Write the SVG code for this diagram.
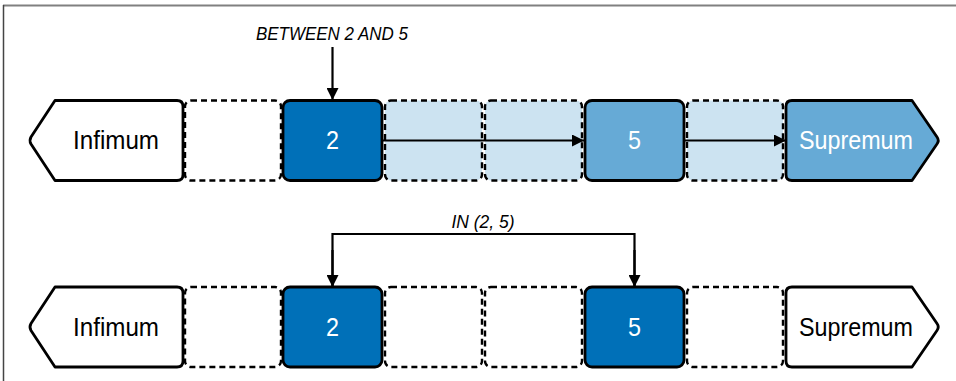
<svg xmlns="http://www.w3.org/2000/svg" width="956" height="381" viewBox="0 0 956 381">
<defs>
<style>
.solid{stroke:#000;stroke-width:2.8;stroke-linejoin:round}
.dash{stroke:#000;stroke-width:2.4;stroke-dasharray:6 4}
.lbl{font-family:"Liberation Sans",Arial,sans-serif;font-size:26px;text-anchor:middle}
.ann{font-family:"Liberation Sans",Arial,sans-serif;font-size:19px;font-style:italic;text-anchor:middle;fill:#000}
.conn{stroke:#000;stroke-width:2.2;fill:none}
.white{fill:#fff}
.dark{fill:#0070b8}
.mid{fill:#66aad6}
.light{fill:#cce3f1}
</style>
<marker id="ah" viewBox="0 0 12 12" refX="12" refY="6" markerWidth="12" markerHeight="12" markerUnits="userSpaceOnUse" orient="auto">
<path d="M0,0 L12,6 L0,12 Z" fill="#000"/>
</marker>
</defs>
<rect width="956" height="381" fill="#fff"/>
<g id="frame">
<line x1="3" y1="5.5" x2="956" y2="5.5" stroke="#808080" stroke-width="2"/>
<line x1="3.5" y1="5" x2="3.5" y2="381" stroke="#444" stroke-width="1.5"/>
</g>

<!-- Row 1 -->
<g id="r1-infimum">
<path class="solid white" d="M55,100.5 H177 Q183,100.5 183,106.5 V174.5 Q183,180.5 177,180.5 H55 L31,144 Q29,140.5 31,137 Z"/>
<text class="lbl" x="116" y="148.5" fill="#000" textLength="86" lengthAdjust="spacingAndGlyphs">Infimum</text>
</g>
<g id="r1-d1"><rect class="dash white" x="185" y="100.5" width="96" height="80" rx="6"/></g>
<g id="r1-d2"><rect class="dash light" x="385" y="100.5" width="97" height="80" rx="6"/></g>
<g id="r1-d3"><rect class="dash light" x="485" y="100.5" width="97" height="80" rx="6"/></g>
<g id="r1-d4"><rect class="dash light" x="687" y="100.5" width="96" height="80" rx="6"/></g>
<g id="r1-n2">
<rect class="solid dark" x="283" y="100.5" width="99" height="80" rx="7"/>
<text class="lbl" x="332.5" y="148.5" fill="#fff" textLength="13" lengthAdjust="spacingAndGlyphs">2</text>
</g>
<g id="r1-n5">
<rect class="solid mid" x="585" y="100.5" width="99" height="80" rx="7"/>
<text class="lbl" x="634.5" y="148.5" fill="#fff" textLength="13" lengthAdjust="spacingAndGlyphs">5</text>
</g>
<g id="r1-supremum">
<path class="solid mid" d="M792,100.5 H912 L937,137 Q939.5,140.5 937,144 L912,180.5 H792 Q786,180.5 786,174.5 V106.5 Q786,100.5 792,100.5 Z"/>
<text class="lbl" x="856" y="148.5" fill="#fff" textLength="114" lengthAdjust="spacingAndGlyphs">Supremum</text>
</g>
<g id="r1-label">
<text class="ann" x="332" y="40" textLength="152" lengthAdjust="spacingAndGlyphs">BETWEEN 2 AND 5</text>
</g>

<!-- Row 2 -->
<g id="r2-infimum">
<path class="solid white" d="M55,287 H177 Q183,287 183,293 V361 Q183,367 177,367 H55 L31,330.5 Q29,327 31,323.5 Z"/>
<text class="lbl" x="116" y="336" fill="#000" textLength="86" lengthAdjust="spacingAndGlyphs">Infimum</text>
</g>
<g id="r2-d1"><rect class="dash white" x="185" y="287" width="96" height="80" rx="6"/></g>
<g id="r2-d2"><rect class="dash white" x="385" y="287" width="97" height="80" rx="6"/></g>
<g id="r2-d3"><rect class="dash white" x="485" y="287" width="97" height="80" rx="6"/></g>
<g id="r2-d4"><rect class="dash white" x="687" y="287" width="96" height="80" rx="6"/></g>
<g id="r2-n2">
<rect class="solid dark" x="283" y="287" width="99" height="80" rx="7"/>
<text class="lbl" x="332.5" y="336" fill="#fff" textLength="13" lengthAdjust="spacingAndGlyphs">2</text>
</g>
<g id="r2-n5">
<rect class="solid dark" x="585" y="287" width="99" height="80" rx="7"/>
<text class="lbl" x="634.5" y="336" fill="#fff" textLength="13" lengthAdjust="spacingAndGlyphs">5</text>
</g>
<g id="r2-supremum">
<path class="solid white" d="M792,287 H912 L937,323.5 Q939.5,327 937,330.5 L912,367 H792 Q786,367 786,361 V293 Q786,287 792,287 Z"/>
<text class="lbl" x="856" y="336" fill="#000" textLength="114" lengthAdjust="spacingAndGlyphs">Supremum</text>
</g>
<g id="r2-label">
<text class="ann" x="483" y="228" textLength="63" lengthAdjust="spacingAndGlyphs">IN (2, 5)</text>
</g>

<g id="connectors">
<line class="conn" x1="332.5" y1="47" x2="332.5" y2="100" marker-end="url(#ah)"/>
<line class="conn" x1="382" y1="140.5" x2="584" y2="140.5" marker-end="url(#ah)"/>
<line class="conn" x1="684" y1="140.5" x2="786" y2="140.5" marker-end="url(#ah)"/>
<polyline class="conn" points="332.5,286 332.5,234 634.5,234 634.5,286"/>
<line class="conn" x1="332.5" y1="250" x2="332.5" y2="287" marker-end="url(#ah)"/>
<line class="conn" x1="634.5" y1="250" x2="634.5" y2="287" marker-end="url(#ah)"/>
</g>
</svg>
